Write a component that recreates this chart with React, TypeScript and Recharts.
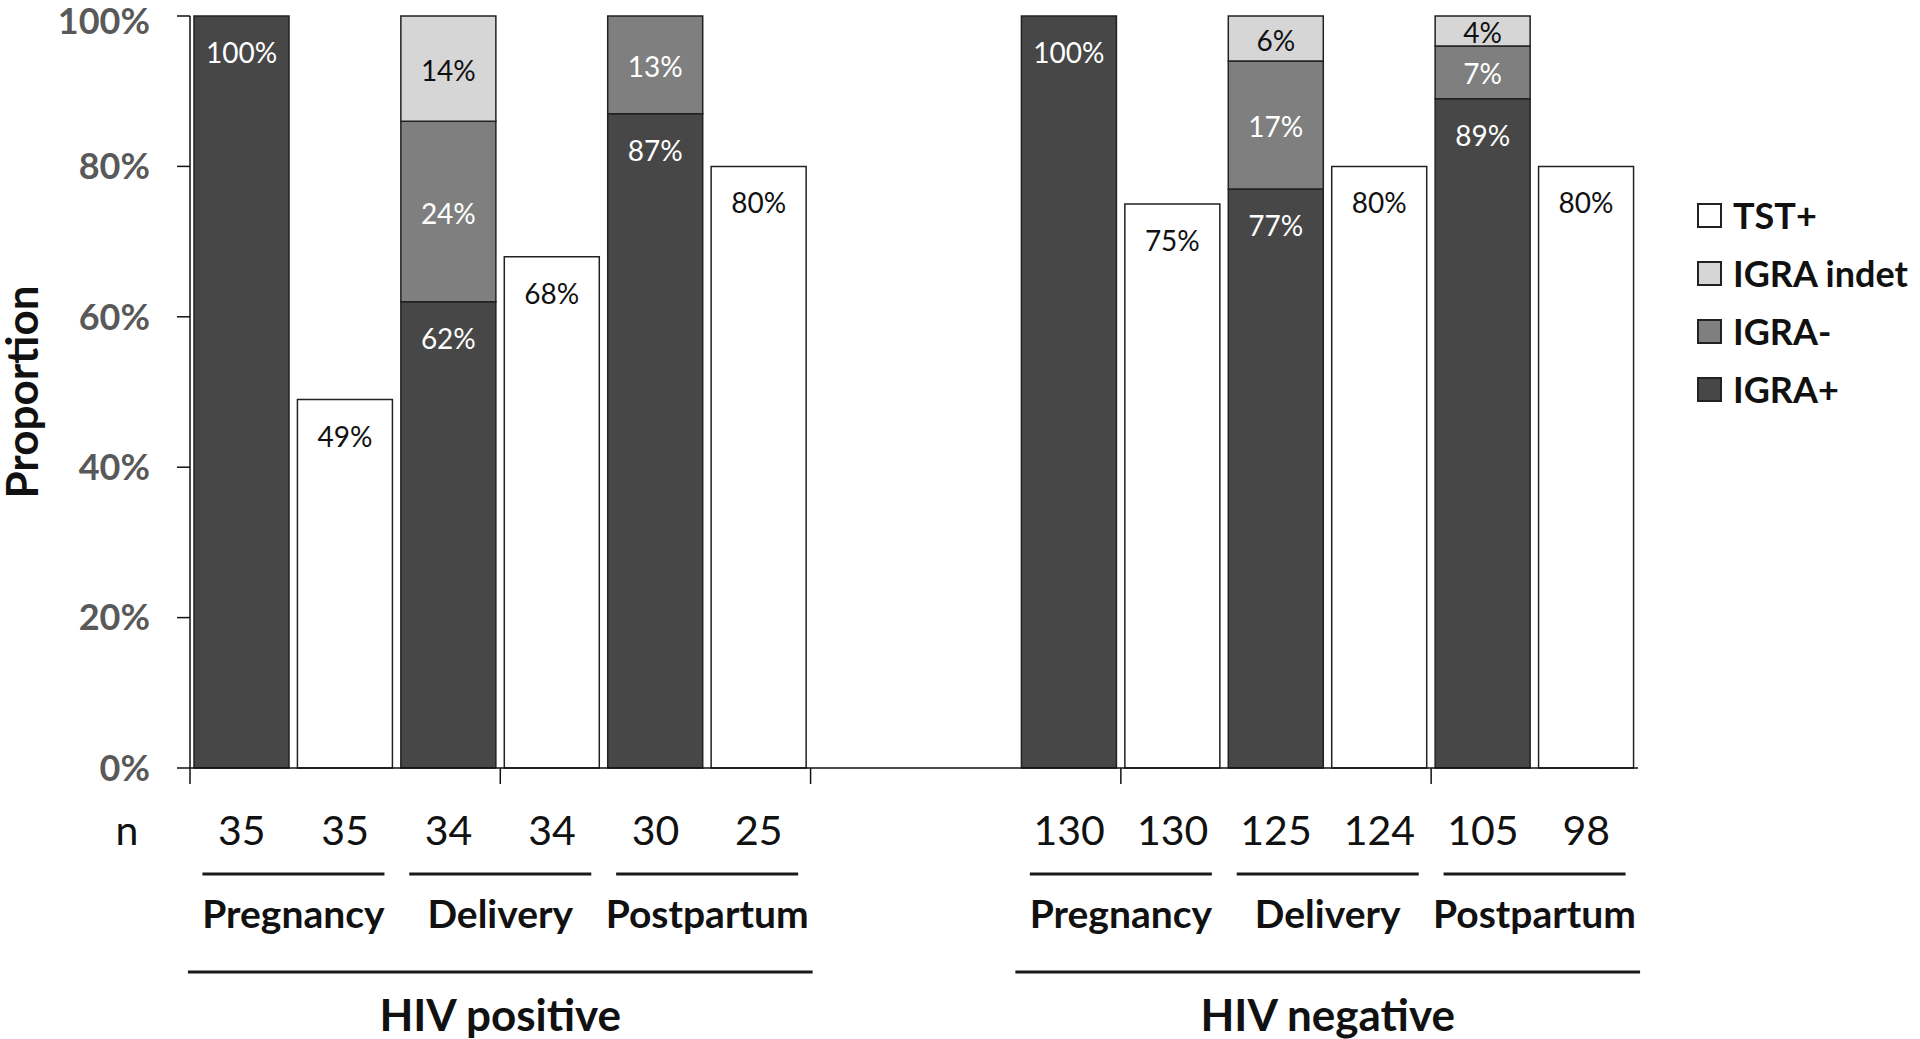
import React from 'react';
import { BarChart, Bar, XAxis, YAxis, Legend, LabelList } from 'recharts';

// ---- data ----
const N_VALUES = ['35', '35', '34', '34', '30', '25', '', '', '130', '130', '125', '124', '105', '98'];
const IGRA_POS = [100, null, 62, null, 87, null, null, null, 100, null, 77, null, 89, null];
const IGRA_NEG = [null, null, 24, null, 13, null, null, null, null, null, 17, null, 7, null];
const IGRA_INDET = [null, null, 14, null, null, null, null, null, null, null, 6, null, 4, null];
const TST_POS = [null, 49, null, 68, null, 80, null, null, null, 75, null, 80, null, 80];

const Y_TICKS = [0, 20, 40, 60, 80, 100];
// category indices: a boundary tick sits before these bars
const BOUNDARY_BEFORE = [0, 3, 6, 9, 12];
// first bar of each stage pair
const STAGE_START = [0, 2, 4, 8, 10, 12];
const STAGE_LABELS = ['Pregnancy', 'Delivery', 'Postpartum', 'Pregnancy', 'Delivery', 'Postpartum'];
// first bar of each HIV group (6 bars each)
const HIV_START = [0, 8];
const HIV_LABELS = ['HIV positive', 'HIV negative'];
const LEGEND_ORDER = ['TST+', 'IGRA indet', 'IGRA-', 'IGRA+'];

const data = N_VALUES.map((n, i) => ({
  n,
  igraPos: IGRA_POS[i],
  igraNeg: IGRA_NEG[i],
  indet: IGRA_INDET[i],
  tst: TST_POS[i],
}));

// ---- layout / style ----
const W = 1920;
const H = 1039;
const AX_H = 1;
const MARGIN = { top: 16, right: 282, bottom: 271 - AX_H, left: 0 };
const Y_AXIS_W = 190;
const PLOT_W = W - MARGIN.right - Y_AXIS_W;
const SLOT = PLOT_W / N_VALUES.length;
const FONT = 'Lato, "Open Sans", sans-serif';
const C_POS = '#474747';
const C_NEG = '#7f7f7f';
const C_INDET = '#d6d6d6';
const C_TST = '#ffffff';
const STROKE = '#222222';
const INK = '#111111';

const topLabel = (color: string) => (props: any) => {
  const { x, y, width, value } = props;
  if (value === null || value === undefined || value === 0) return null;
  return (
    <text x={x + width / 2} y={y + 36} fill={color} textAnchor="middle" dominantBaseline="central"
      fontFamily={FONT} fontSize={28}>{value}%</text>
  );
};

const centerLabel = (color: string) => (props: any) => {
  const { x, y, width, height, value } = props;
  if (value === null || value === undefined || value === 0) return null;
  return (
    <text x={x + width / 2} y={y + height / 2 + 1} fill={color} textAnchor="middle" dominantBaseline="central"
      fontFamily={FONT} fontSize={28}>{value}%</text>
  );
};

const BottomTick = (props: any) => {
  const { x, y, payload, index } = props;
  const stageIdx = STAGE_START.indexOf(index);
  const hivIdx = HIV_START.indexOf(index);
  const sx = x + SLOT / 2;
  const hx = x + 2.5 * SLOT;
  return (
    <g>
      {BOUNDARY_BEFORE.includes(index) && (
        <line x1={x - SLOT / 2} x2={x - SLOT / 2} y1={y} y2={y + 16} stroke={INK} strokeWidth={1.5} />
      )}
      <text x={x} y={y + 61} textAnchor="middle" dominantBaseline="central" fontFamily={FONT}
        fontSize={41} fill={INK}>{payload.value}</text>
      {stageIdx >= 0 && (
        <g>
          <line x1={sx - 0.88 * SLOT} x2={sx + 0.88 * SLOT} y1={y + 106} y2={y + 106} stroke="#1a1a1a" strokeWidth={3} />
          <text x={sx} y={y + 145} textAnchor="middle" dominantBaseline="central" fontFamily={FONT}
            fontWeight={700} fontSize={39} fill={INK}>{STAGE_LABELS[stageIdx]}</text>
        </g>
      )}
      {hivIdx >= 0 && (
        <g>
          <line x1={hx - 3.02 * SLOT} x2={hx + 3.02 * SLOT} y1={y + 204} y2={y + 204} stroke="#1a1a1a" strokeWidth={3} />
          <text x={hx} y={y + 246} textAnchor="middle" dominantBaseline="central" fontFamily={FONT}
            fontWeight={700} fontSize={44} fill={INK}>{HIV_LABELS[hivIdx]}</text>
        </g>
      )}
    </g>
  );
};

const LegendContent = (props: any) => {
  const items = [...(props.payload || [])].sort(
    (a: any, b: any) => LEGEND_ORDER.indexOf(a.value) - LEGEND_ORDER.indexOf(b.value)
  );
  return (
    <div style={{ fontFamily: FONT }}>
      {items.map((it: any) => (
        <div key={it.value} style={{ display: 'flex', alignItems: 'center', height: 58, whiteSpace: 'nowrap' }}>
          <div style={{ width: 21, height: 21, background: it.color, border: `2px solid ${STROKE}`, marginRight: 11 }} />
          <span style={{ fontSize: 36, fontWeight: 700, color: INK }}>{it.value}</span>
        </div>
      ))}
    </div>
  );
};

export default function App() {
  return (
    <div style={{ position: 'absolute', left: 0, top: 0, width: W, height: H, overflow: 'hidden', background: '#fff' }}>
      <BarChart width={W} height={H} data={data} margin={MARGIN} barSize={95}>
        <YAxis
          type="number"
          domain={[0, 100]}
          ticks={Y_TICKS}
          width={Y_AXIS_W}
          tickFormatter={(v: number) => `${v}%`}
          tickSize={13}
          tickMargin={27}
          stroke={INK}
          axisLine={{ stroke: INK, strokeWidth: 1.5 }}
          tickLine={{ stroke: INK, strokeWidth: 1.5 }}
          tick={{ fill: '#595959', fontFamily: FONT, fontWeight: 700, fontSize: 36 }}
          label={(p: any) => {
            const vb = p.viewBox;
            const cx = vb.x + 21;
            const cy = vb.y + vb.height / 2;
            return (
              <text x={cx} y={cy} transform={`rotate(-90 ${cx} ${cy})`} textAnchor="middle"
                dominantBaseline="central" fontFamily={FONT} fontWeight={700} fontSize={44} fill={INK}>Proportion</text>
            );
          }}
        />
        <XAxis
          dataKey="n"
          type="category"
          interval={0}
          height={AX_H}
          tickLine={false}
          tickSize={0}
          tickMargin={0}
          axisLine={{ stroke: INK, strokeWidth: 1.5 }}
          tick={<BottomTick />}
          label={(p: any) => {
            const vb = p.viewBox;
            return (
              <text x={vb.x - 63} y={vb.y + 61} textAnchor="middle" dominantBaseline="central" fontFamily={FONT}
                fontSize={41} fill={INK}>n</text>
            );
          }}
        />
        <Legend
          layout="vertical"
          align="center"
          verticalAlign="middle"
          content={<LegendContent />}
          wrapperStyle={{ position: 'absolute', left: 1697, top: 186, width: 'auto', height: 'auto' }}
        />
        <Bar dataKey="igraPos" name="IGRA+" stackId="a" fill={C_POS} stroke={STROKE} strokeWidth={1.5} isAnimationActive={false}>
          <LabelList dataKey="igraPos" content={topLabel('#ffffff')} />
        </Bar>
        <Bar dataKey="igraNeg" name="IGRA-" stackId="a" fill={C_NEG} stroke={STROKE} strokeWidth={1.5} isAnimationActive={false}>
          <LabelList dataKey="igraNeg" content={centerLabel('#ffffff')} />
        </Bar>
        <Bar dataKey="indet" name="IGRA indet" stackId="a" fill={C_INDET} stroke={STROKE} strokeWidth={1.5} isAnimationActive={false}>
          <LabelList dataKey="indet" content={centerLabel(INK)} />
        </Bar>
        <Bar dataKey="tst" name="TST+" stackId="a" fill={C_TST} stroke={STROKE} strokeWidth={1.5} isAnimationActive={false}>
          <LabelList dataKey="tst" content={topLabel(INK)} />
        </Bar>
      </BarChart>
    </div>
  );
}
